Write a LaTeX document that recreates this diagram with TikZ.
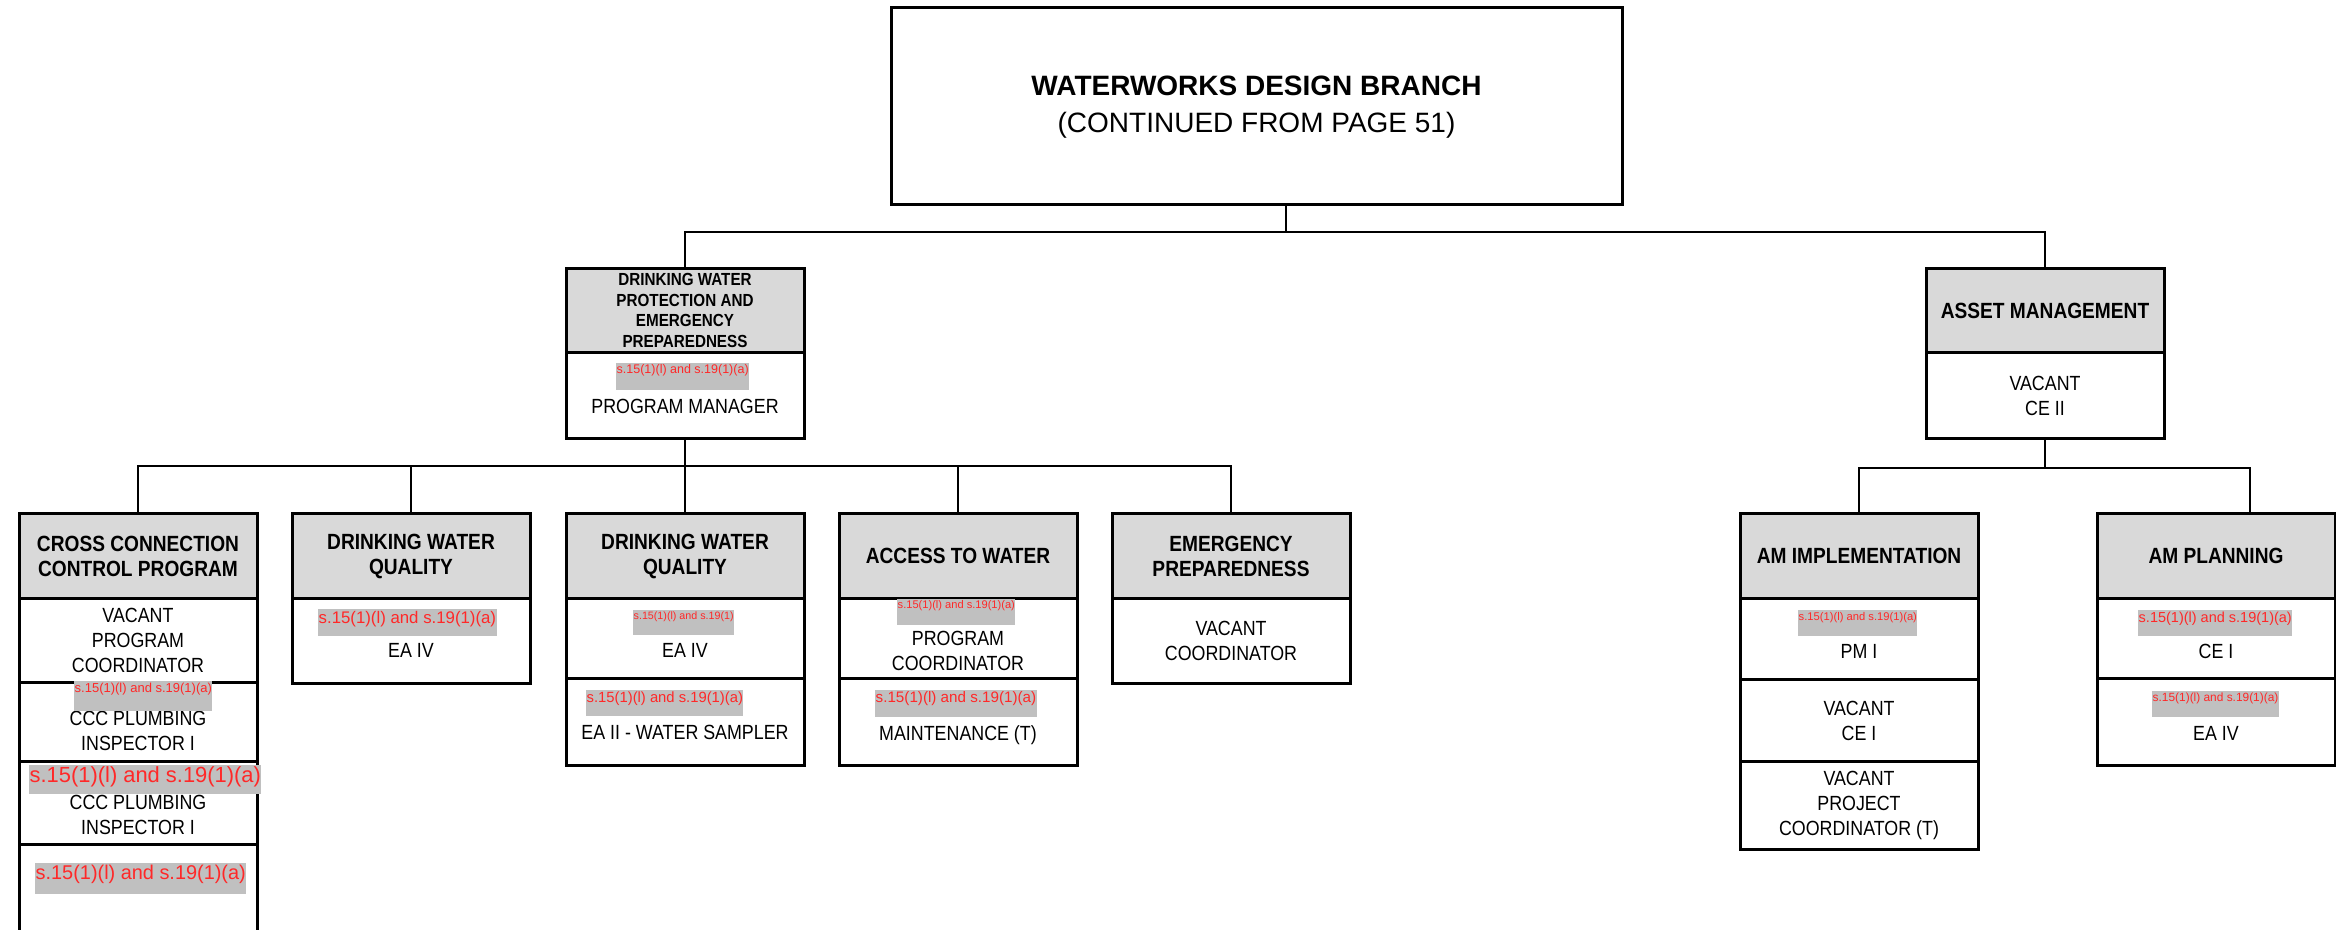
\documentclass[tikz,border=0pt]{standalone}
\usepackage{fontspec}
\setmainfont{Liberation Sans}
\newfontfamily\cond[FakeStretch=0.87]{Liberation Sans}
\definecolor{hdrgray}{HTML}{D9D9D9}
\definecolor{redgray}{HTML}{C0C0C0}
\definecolor{redtxt}{HTML}{FF2828}
\tikzset{
  cell/.style={draw=black, line width=3pt, inner sep=0pt, minimum width=238pt, align=center,
    anchor=north, font=\cond\fontsize{20.5}{25}\selectfont},
  hdr/.style={cell, fill=hdrgray, font=\cond\bfseries\fontsize{22}{25}\selectfont},
  rowbox/.style={cell, fill=white},
  conn/.style={line width=2.5pt},
  redact/.style={fill=redgray, text=redtxt, inner xsep=0.5pt, inner ysep=0pt, anchor=north west},
  lbl/.style={inner sep=0pt, align=center, font=\cond\fontsize{20.5}{25}\selectfont},
}
\begin{document}
\begin{tikzpicture}[x=1pt,y=-1pt]
\useasboundingbox (0,0) rectangle (2336,929);
\fill[white] (0,0) rectangle (2336,929);

% ---------- connector junctions ----------
\coordinate (j1) at (1286,232);
\coordinate (j2) at (685,466);
\coordinate (j3) at (2045,468);
\coordinate (ampin) at (2250,512);

% ---------- top box ----------
\node[draw=black, line width=3pt, minimum width=731pt, minimum height=197pt, inner sep=0pt] (top) at (1256.5,105.5) {};
\node[inner sep=0pt, align=center, anchor=north, font=\fontsize{28}{37}\selectfont] (top-t) at (1256.5,75.5)
      {{\bfseries WATERWORKS DESIGN BRANCH}\\(CONTINUED FROM PAGE 51)};

% ---------- level 2 ----------
\node[hdr, minimum height=84pt, font=\cond\bfseries\fontsize{17.5}{20.7}\selectfont] (dwp-h) at (685,267)
  {DRINKING WATER\\PROTECTION AND\\EMERGENCY\\PREPAREDNESS};
\node[rowbox, minimum height=86pt] (dwp-b) at (685,351) {};
\node[hdr, minimum height=84pt] (am-h) at (2045,267) {ASSET MANAGEMENT};
\node[rowbox, minimum height=86pt] (am-b) at (2045,351) {VACANT\\CE II};

% ---------- connectors drawn under level 3 ----------
\draw[conn] (top.south -| j1) -- (j1);
\draw[conn] (dwp-h.north) |- (j1) -| (am-h.north);
\draw[conn] (dwp-b.south) -- (j2);
\draw[conn] (am-b.south) -- (j3);

% ---------- level 3: under DWP ----------
\node[hdr, minimum height=85pt] (ccc-h) at (138,512) {CROSS CONNECTION\\CONTROL PROGRAM};
\node[hdr, minimum height=85pt] (dwq1-h) at (411,512) {DRINKING WATER\\QUALITY};
\node[hdr, minimum height=85pt] (dwq2-h) at (685,512) {DRINKING WATER\\QUALITY};
\node[hdr, minimum height=85pt] (atw-h) at (958,512) {ACCESS TO WATER};
\node[hdr, minimum height=85pt] (ep-h) at (1231,512) {EMERGENCY\\PREPAREDNESS};

\draw[conn] (ccc-h.north) |- (j2) -| (ep-h.north);
\draw[conn] (dwq1-h.north) -- (dwq1-h.north |- j2);
\draw[conn] (dwq2-h.north) -- (j2);
\draw[conn] (atw-h.north) -- (atw-h.north |- j2);

% CCC rows
\node[rowbox, minimum height=84pt] (ccc-1) at (138,597) {VACANT\\PROGRAM\\COORDINATOR};
\node[rowbox, minimum height=79pt] (ccc-2) at (138,681) {};
\node[rowbox, minimum height=83pt] (ccc-3) at (138,760) {};
\node[rowbox, minimum height=88pt] (ccc-4) at (138,843) {};
% DWQ1
\node[rowbox, minimum height=85pt] (dwq1-1) at (411,597) {};
% DWQ2
\node[rowbox, minimum height=80pt] (dwq2-1) at (685,597) {};
\node[rowbox, minimum height=87pt] (dwq2-2) at (685,677) {};
% ATW
\node[rowbox, minimum height=80pt] (atw-1) at (958,597) {};
\node[rowbox, minimum height=87pt] (atw-2) at (958,677) {};
% EP
\node[rowbox, minimum height=85pt] (ep-1) at (1231,597) {VACANT\\COORDINATOR};

% ---------- level 3: under AM ----------
\node[hdr, minimum height=85pt] (ami-h) at (1859,512) {AM IMPLEMENTATION};
\node[hdr, minimum height=85pt] (amp-h) at (2216,512) {AM PLANNING};
\draw[conn] (ami-h.north) |- (j3) -| (ampin);

\node[rowbox, minimum height=81pt] (ami-1) at (1859,597) {};
\node[rowbox, minimum height=82pt] (ami-2) at (1859,678) {VACANT\\CE I};
\node[rowbox, minimum height=88pt] (ami-3) at (1859,760) {VACANT\\PROJECT\\COORDINATOR (T)};
\node[rowbox, minimum height=80pt] (amp-1) at (2216,597) {};
\node[rowbox, minimum height=87pt] (amp-2) at (2216,677) {};

% ---------- titles in rows ----------
\node[lbl, anchor=base] (dwp-t) at (685,413) {PROGRAM MANAGER};
\node[lbl, anchor=north] (ccc-2t) at (138,711.2) {CCC PLUMBING\\INSPECTOR I};
\node[lbl, anchor=north] (ccc-3t) at (138,795.2) {CCC PLUMBING\\INSPECTOR I};
\node[lbl, anchor=base] (dwq1-t) at (411,657) {EA IV};
\node[lbl, anchor=base] (dwq2-1t) at (685,657) {EA IV};
\node[lbl, anchor=base] (dwq2-2t) at (685,739) {EA II - WATER SAMPLER};
\node[lbl, anchor=north] (atw-1t) at (958,631.2) {PROGRAM\\COORDINATOR};
\node[lbl, anchor=base] (atw-2t) at (958,740) {MAINTENANCE (T)};
\node[lbl, anchor=base] (ami-1t) at (1859,658) {PM I};
\node[lbl, anchor=base] (amp-1t) at (2216,658) {CE I};
\node[lbl, anchor=base] (amp-2t) at (2216,740) {EA IV};

% ---------- redactions ----------
\node[redact, font=\fontsize{12.5}{12.5}\selectfont, text height=10.75pt, text depth=16.25pt] (dwp-r) at (616,363) {s.15(1)(l) and s.19(1)(a)};
\node[redact, font=\fontsize{13}{13}\selectfont, text height=11.1pt, text depth=18.9pt] (ccc-2r) at (74,681) {s.15(1)(l) and s.19(1)(a)};
\node[redact, font=\fontsize{21.9}{21.9}\selectfont, text height=17.7pt, text depth=11.3pt] (ccc-3r) at (29,765) {s.15(1)(l) and s.19(1)(a)};
\node[redact, font=\fontsize{19.9}{19.9}\selectfont, text height=16.2pt, text depth=14.8pt] (ccc-4r) at (35,863) {s.15(1)(l) and s.19(1)(a)};
\node[redact, font=\fontsize{16.8}{16.8}\selectfont, text height=13.9pt, text depth=13.1pt] (dwq1-r) at (318,609) {s.15(1)(l) and s.19(1)(a)};
\node[redact, font=\fontsize{10.7}{10.7}\selectfont, text height=9.4pt, text depth=15.6pt] (dwq2-1r) at (633,610) {s.15(1)(l) and s.19(1)};
\node[redact, font=\fontsize{14.8}{14.8}\selectfont, text height=12.5pt, text depth=13.5pt] (dwq2-2r) at (586,690) {s.15(1)(l) and s.19(1)(a)};
\node[redact, font=\fontsize{11.1}{11.1}\selectfont, text height=9.7pt, text depth=16.3pt] (atw-1r) at (897,599) {s.15(1)(l) and s.19(1)(a)};
\node[redact, font=\fontsize{15.2}{15.2}\selectfont, text height=12.7pt, text depth=14.3pt] (atw-2r) at (875,690) {s.15(1)(l) and s.19(1)(a)};
\node[redact, font=\fontsize{11.2}{11.2}\selectfont, text height=9.8pt, text depth=16.2pt] (ami-1r) at (1798,610) {s.15(1)(l) and s.19(1)(a)};
\node[redact, font=\fontsize{14.5}{14.5}\selectfont, text height=12.2pt, text depth=13.8pt] (amp-1r) at (2138,610) {s.15(1)(l) and s.19(1)(a)};
\node[redact, font=\fontsize{11.9}{11.9}\selectfont, text height=10.3pt, text depth=15.7pt] (amp-2r) at (2152,691) {s.15(1)(l) and s.19(1)(a)};
\end{tikzpicture}
\end{document}
